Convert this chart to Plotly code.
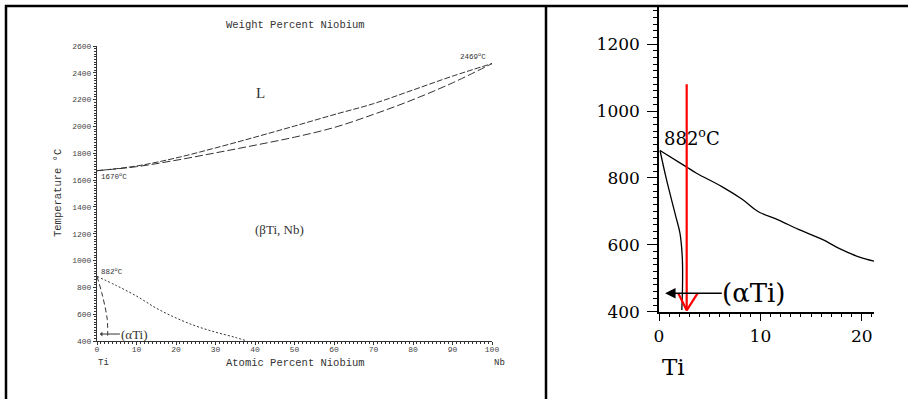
import plotly.graph_objects as go

W, H = 908, 399
TI_MASS = 47.867
NB_MASS = 92.906

# ---------------- full Ti-Nb diagram (atomic % Nb) ----------------
liquidus_at = [0, 10, 20, 30, 40, 50, 60, 70, 80, 90, 100]
liquidus_T = [1670, 1705, 1765, 1840, 1920, 2003, 2088, 2170, 2272, 2375, 2469]

solidus_at = [0, 10, 20, 30, 40, 50, 60, 70, 80, 90, 100]
solidus_T = [1670, 1700, 1748, 1803, 1860, 1920, 1992, 2090, 2200, 2325, 2469]

beta_transus_at = [0, 5, 10, 15, 20, 25, 30, 35, 38]
beta_transus_T = [882, 812, 735, 645, 572, 512, 466, 427, 400]

alpha_transus_at = [0, 1.2, 2.2, 2.6, 2.7, 2.7]
alpha_transus_T = [882, 760, 631, 560, 500, 440]

at_ticks = [0, 10, 20, 30, 40, 50, 60, 70, 80, 90, 100]
wt_ticks = [0, 10, 20, 30, 40, 50, 60, 70, 80, 90, 100]
temp_ticks = [400, 600, 800, 1000, 1200, 1400, 1600, 1800, 2000, 2200, 2400, 2600]

# ---------------- Ti-rich enlargement ----------------
zoom_beta_x = [0.1, 2.7, 3.7, 6.2, 8.2, 9.8, 11.8, 13.75, 16.1, 17.7, 19.7, 21.2]
zoom_beta_T = [882, 833, 814, 774, 736, 699, 674, 646, 616, 590, 564, 551]

zoom_alpha_x = [0.1, 0.7, 1.25, 1.7, 2.07, 2.3, 2.32, 2.25]
zoom_alpha_T = [882, 800, 733, 680, 634, 560, 480, 405]

zoom_x_ticks = [0, 10, 20]
zoom_T_ticks = [400, 600, 800, 1000, 1200]

# red marker: alloy composition cooled from above the transus
alloy_shaft_x = [2.73, 2.73]
alloy_shaft_T = [1080, 404]
alloy_head_x = [1.9, 2.73, 3.8]
alloy_head_T = [455, 404, 455]

# (alpha Ti) pointer
alpha_label_x = 9.4
alpha_label_T = 455
alpha_tip_x = 0.6


def wt_to_at(w):
    """Weight percent Nb -> atomic percent Nb."""
    nb = w / NB_MASS
    ti = (100 - w) / TI_MASS
    return 100 * nb / (nb + ti)


def px(x):
    return x / W


def py(y):
    return 1 - y / H


LINE = "#333333"
MONO = "Liberation Mono"
SERIF = "DejaVu Serif"

fig = go.Figure()

# full diagram phase boundaries
fig.add_trace(go.Scatter(x=liquidus_at, y=liquidus_T, mode="lines", line_shape="spline",
                         line=dict(color=LINE, width=1, dash="6px,2px"),
                         xaxis="x", yaxis="y", hoverinfo="skip"))
fig.add_trace(go.Scatter(x=solidus_at, y=solidus_T, mode="lines", line_shape="spline",
                         line=dict(color=LINE, width=1, dash="8px,3px"),
                         xaxis="x", yaxis="y", hoverinfo="skip"))
fig.add_trace(go.Scatter(x=beta_transus_at, y=beta_transus_T, mode="lines", line_shape="spline",
                         line=dict(color=LINE, width=1, dash="2px,2px"),
                         xaxis="x", yaxis="y", hoverinfo="skip"))
fig.add_trace(go.Scatter(x=alpha_transus_at, y=alpha_transus_T, mode="lines", line_shape="spline",
                         line=dict(color=LINE, width=1, dash="5px,3px"),
                         xaxis="x", yaxis="y", hoverinfo="skip"))

# enlargement boundaries
fig.add_trace(go.Scatter(x=zoom_beta_x, y=zoom_beta_T, mode="lines", line_shape="spline",
                         line=dict(color="black", width=1.3),
                         xaxis="x3", yaxis="y3", hoverinfo="skip"))
fig.add_trace(go.Scatter(x=zoom_alpha_x, y=zoom_alpha_T, mode="lines", line_shape="spline",
                         line=dict(color="black", width=1.3),
                         xaxis="x3", yaxis="y3", hoverinfo="skip"))

# red cooling arrow
fig.add_trace(go.Scatter(x=alloy_shaft_x, y=alloy_shaft_T, mode="lines",
                         line=dict(color="red", width=2.2),
                         xaxis="x3", yaxis="y3", hoverinfo="skip"))
fig.add_trace(go.Scatter(x=alloy_head_x, y=alloy_head_T, mode="lines",
                         line=dict(color="red", width=2.2),
                         xaxis="x3", yaxis="y3", hoverinfo="skip"))

small_axis = dict(showline=True, linecolor=LINE, linewidth=1, showgrid=False, zeroline=False,
                  automargin=False,
                  tickfont=dict(family=MONO, size=8, color="#444"), tickcolor=LINE)
big_axis = dict(showline=True, linecolor="black", linewidth=1.5, showgrid=False, zeroline=False,
                automargin=False, tickwidth=1.3, tickcolor="black",
                tickfont=dict(family=SERIF, size=17, color="black"))

fig.update_layout(
    template="none",
    width=W, height=H, autosize=False,
    margin=dict(l=0, r=0, t=0, b=0, pad=0, autoexpand=False),
    paper_bgcolor="white", plot_bgcolor="white",
    showlegend=False,
    xaxis=dict(domain=[px(97), px(492)], range=[0, 100], anchor="y",
               tickvals=at_ticks, ticks="outside", ticklen=3, ticklabelstandoff=-3,
               minor=dict(dtick=1, ticks="outside", ticklen=2, tickcolor=LINE),
               **small_axis),
    xaxis2=dict(overlaying="x", side="top", anchor="y", range=[0, 100],
                tickvals=[wt_to_at(w) for w in wt_ticks], ticktext=[str(w) for w in wt_ticks],
                ticks="inside", ticklen=4,
                minor=dict(tickvals=[wt_to_at(w) for w in range(1, 100)], ticks="inside",
                           ticklen=2, tickcolor=LINE),
                **small_axis),
    yaxis=dict(domain=[py(341), py(46)], range=[400, 2600], anchor="x",
               tickvals=temp_ticks, ticks="outside", ticklen=3,
               minor=dict(dtick=20, ticks="outside", ticklen=2, tickcolor=LINE),
               **small_axis),
    yaxis2=dict(overlaying="y", side="right", anchor="x", range=[400, 2600],
                tickvals=temp_ticks, ticks="inside", ticklen=3, showticklabels=False,
                **small_axis),
    xaxis3=dict(domain=[px(659), px(874)], range=[0, 21.2], anchor="y3",
                tickvals=zoom_x_ticks, ticks="outside", ticklen=8,
                minor=dict(dtick=1, ticks="outside", ticklen=4, tickcolor="black"),
                **big_axis),
    yaxis3=dict(domain=[py(311.7), py(7)], range=[400, 1311], anchor="x3",
                tickvals=zoom_T_ticks, ticks="outside", ticklen=10, ticklabelstandoff=4,
                minor=dict(dtick=20, ticks="outside", ticklen=4, tickcolor="black"),
                **big_axis),
)


def page_text(text, x, y, size, family=MONO, color="#333", angle=0):
    return dict(text=text, x=px(x), y=py(y), xref="paper", yref="paper",
                xanchor="center", yanchor="middle", textangle=angle, showarrow=False,
                font=dict(family=family, size=size, color=color))


ann = []
# axis titles and element names of the full diagram
ann.append(page_text("Weight Percent Niobium", 295, 25, 10.5))
ann.append(page_text("Atomic Percent Niobium", 295, 363, 10.5))
ann.append(page_text("Temperature °C", 58, 193, 10.5, angle=-90))
ann.append(page_text("Ti", 103, 363, 9))
ann.append(page_text("Nb", 500, 363, 9))

# phase-field labels in the full diagram
ann.append(dict(text="L", x=41.3, y=2249, xref="x", yref="y", showarrow=False,
                xanchor="center", yanchor="middle",
                font=dict(family="Liberation Serif", size=15, color="#333")))
ann.append(dict(text="(βTi, Nb)", x=46.3, y=1235, xref="x", yref="y", showarrow=False,
                xanchor="center", yanchor="middle",
                font=dict(family="Liberation Serif", size=13, color="#333")))
ann.append(dict(text="1670<sup>o</sup>C", x=0.6, y=liquidus_T[0], xref="x", yref="y",
                xanchor="left", yanchor="top", yshift=1, showarrow=False,
                font=dict(family=MONO, size=7.5, color="#333")))
ann.append(dict(text="2469<sup>o</sup>C", x=99, y=liquidus_T[-1], xref="x", yref="y",
                xanchor="right", yanchor="bottom", yshift=1, showarrow=False,
                font=dict(family=MONO, size=7.5, color="#333")))
ann.append(dict(text="882<sup>o</sup>C", x=0.4, y=beta_transus_T[0], xref="x", yref="y",
                xanchor="left", yanchor="bottom", yshift=-2, showarrow=False,
                font=dict(family=MONO, size=7.5, color="#333")))
ann.append(dict(text="(αTi)", x=0.75, y=452, ax=9.6, ay=452, xref="x", yref="y",
                axref="x", ayref="y", showarrow=True, arrowhead=1, arrowsize=0.8,
                arrowwidth=1, arrowcolor="#333", standoff=0,
                font=dict(family="Liberation Serif", size=13, color="#333")))

# enlargement labels
ann.append(dict(text="882<sup>o</sup>C", x=0.25, y=zoom_beta_T[0], xref="x3", yref="y3",
                xanchor="left", yanchor="bottom", yshift=-1, showarrow=False,
                font=dict(family=SERIF, size=18, color="black")))
ann.append(page_text("Ti", 673, 367, 23, family=SERIF, color="black"))
ann.append(dict(text="(αTi)", x=alpha_tip_x, y=alpha_label_T, ax=alpha_label_x, ay=alpha_label_T,
                xref="x3", yref="y3", axref="x3", ayref="y3", showarrow=True,
                arrowhead=2, arrowsize=1.4, arrowwidth=1.5, arrowcolor="black", standoff=0,
                borderpad=0, font=dict(family=SERIF, size=26, color="black")))
fig.update_layout(annotations=ann)

# page frame: outer border and divider between the two panels
frame = dict(type="line", xref="paper", yref="paper", line=dict(color="black", width=2.5))
fig.add_shape(x0=px(5), x1=1, y0=py(6), y1=py(6), **frame)
fig.add_shape(x0=px(6), x1=px(6), y0=py(5), y1=0, **frame)
fig.add_shape(x0=px(546), x1=px(546), y0=py(5), y1=0, **frame)

fig.write_html("out.html")
